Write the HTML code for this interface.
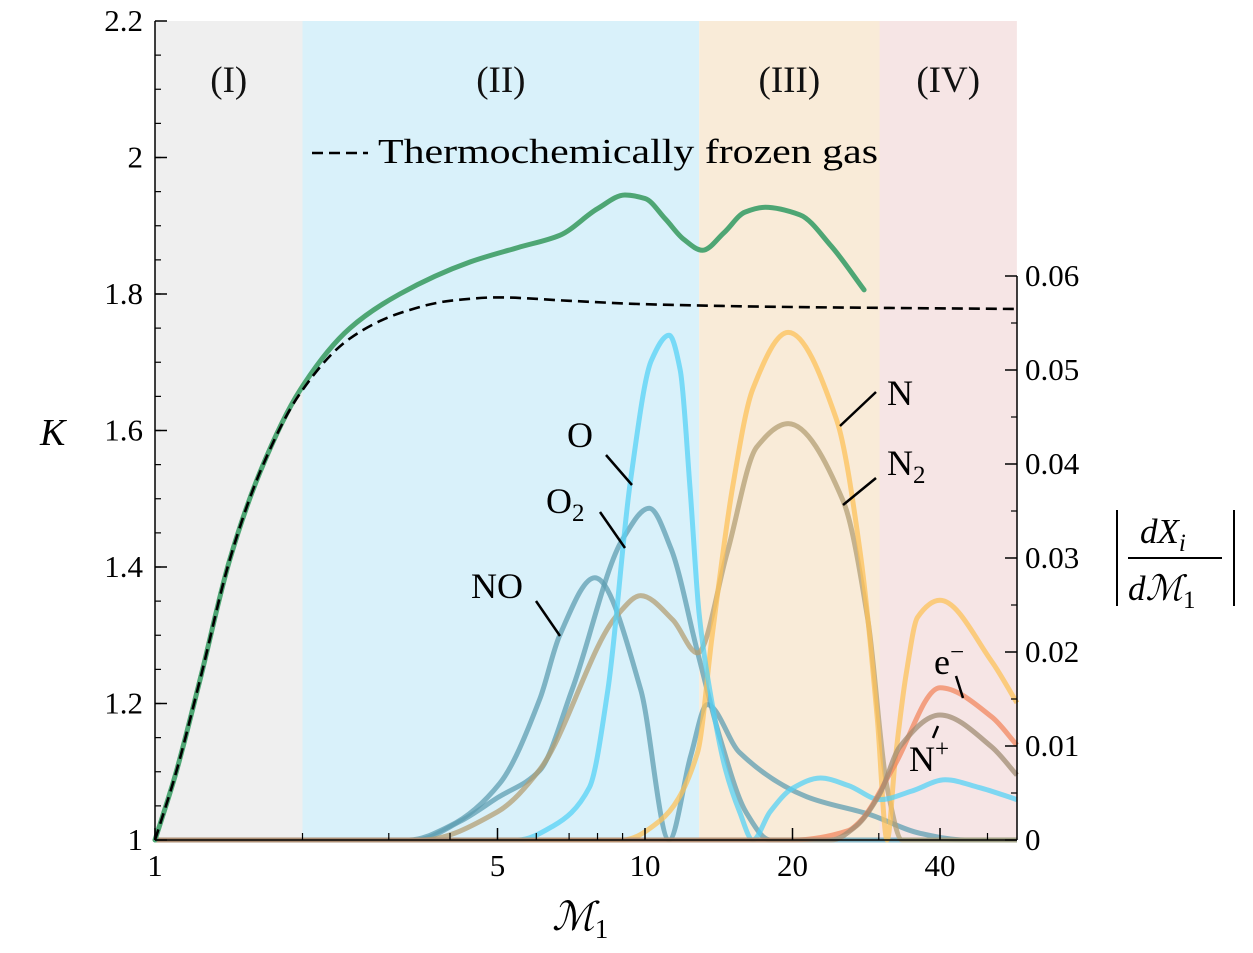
<!DOCTYPE html>
<html><head><meta charset="utf-8"><style>
html,body{margin:0;padding:0;background:#fff;}
svg{display:block;font-family:"Liberation Serif",serif;}
</style></head>
<body>
<svg id="chart" width="1253" height="953" viewBox="0 0 1253 953" xmlns="http://www.w3.org/2000/svg">
<g id="regions"></g>
<g id="curves"></g>
<g id="axes"></g>
<g id="labels"></g>
</svg>
<script>
const regionBounds=[1,2,12.9,30.1,57.4];
const regionNames=["(I)","(II)","(III)","(IV)"];
const regionColors=["#efefef","#d9f1fa","#f9ebd8","#f6e5e5"];
const kM=[1,1.1,1.235,1.42,1.64,1.98,2.5,3.16,4.4,5.5,6.7,8,9.1,10,11,12,13.1,14.5,16,17.6,20.7,24,28];
const kVal=[1,1.095,1.234,1.41,1.54,1.66,1.75,1.80,1.847,1.868,1.886,1.925,1.945,1.94,1.91,1.88,1.864,1.89,1.92,1.927,1.916,1.87,1.806];
const frozenM=[1,1.1,1.235,1.42,1.64,1.98,2.5,3.16,4,5,7,10,20,57.4];
const frozenVal=[1,1.095,1.234,1.41,1.54,1.655,1.735,1.772,1.79,1.795,1.79,1.785,1.781,1.778];
const oM=[1,5.5,6.5,7.7,8.4,9.33,10.3,11.2,11.8,12.35,12.9,13.7,14.6,15.6,16.6,18,20,22.8,26,30.2,35,41,48,57.4];
const oVal=[0,0,0.0015,0.0056,0.016,0.038,0.051,0.0537,0.05,0.0376,0.024,0.0146,0.0075,0.003,0,0.003,0.0055,0.0066,0.0058,0.0043,0.0052,0.0064,0.0056,0.0043];
const o2M=[1,3.4,4.2,5,6.1,7.1,9,10.2,11.3,12.8,14.2,16.1,18,57.4];
const o2Val=[0,0,0.002,0.0045,0.0074,0.016,0.032,0.0353,0.031,0.02,0.011,0.0029,0,0];
const noM=[1,3.3,4,5.05,6.1,6.7,7.9,9.8,11.2,12.4,13.4,15.6,21.4,28.8,36.5,45,57.4];
const noVal=[0,0,0.0015,0.006,0.015,0.0218,0.0279,0.016,0,0.009,0.0144,0.0093,0.0046,0.0027,0.0007,0,0];
const n2M=[1,3.5,5,6.1,8.8,9.8,11.4,12.8,14.7,16.9,19.6,25.4,28.5,31.2,33.5,57.4];
const n2Val=[0,0,0.003,0.0075,0.024,0.026,0.0234,0.0199,0.0305,0.0418,0.0443,0.036,0.0234,0.0056,0,0];
const nM=[1,9,10.7,12.8,13.7,15.1,16.6,19.6,24.6,27.5,29.8,31.2,32.4,34.2,36,40,51,57.4];
const nVal=[0,0,0.002,0.0093,0.0216,0.0376,0.048,0.054,0.0447,0.0305,0.0128,0,0.0085,0.018,0.0237,0.0255,0.019,0.0146];
const eM=[1,20,26,27.5,32.2,40,51,57.4];
const eVal=[0,0,0.001,0.002,0.0078,0.0162,0.0131,0.0101];
const npM=[1,24,27,30.2,33.1,40,51,57.4];
const npVal=[0,0,0.0015,0.005,0.0099,0.0133,0.0099,0.0069];
const xTicks=[1,5,10,20,40];
const yLeftTicks=[1,1.2,1.4,1.6,1.8,2,2.2];
const yLeftLabels=["1","1.2","1.4","1.6","1.8","2","2.2"];
const yRightTicks=[0,0.01,0.02,0.03,0.04,0.05,0.06];
const yRightLabels=["0","0.01","0.02","0.03","0.04","0.05","0.06"];

const L=155,R=1017,B=840,T=21;
const X=m=>L+490*Math.log10(m);
const YL=k=>B-682.5*(k-1);
const YR=v=>B-9400*v;
const NS="http://www.w3.org/2000/svg";
function mk(tag,attrs,parent){const e=document.createElementNS(NS,tag);for(const k in attrs)e.setAttribute(k,attrs[k]);parent.appendChild(e);return e;}
// monotone cubic (Fritsch-Carlson) in pixel space
function pathFrom(ms,vs,yf){
  const xs=ms.map(X), ys=vs.map(yf), n=xs.length;
  const d=[],m=new Array(n);
  for(let i=0;i<n-1;i++)d.push((ys[i+1]-ys[i])/(xs[i+1]-xs[i]));
  m[0]=d[0];m[n-1]=d[n-2];
  for(let i=1;i<n-1;i++){
    if(d[i-1]*d[i]<=0)m[i]=0;
    else{const h0=xs[i]-xs[i-1],h1=xs[i+1]-xs[i];const w1=2*h1+h0,w2=h1+2*h0;m[i]=(w1+w2)/(w1/d[i-1]+w2/d[i]);}
  }
  let s="M"+xs[0].toFixed(1)+","+ys[0].toFixed(1);
  for(let i=0;i<n-1;i++){
    const h=xs[i+1]-xs[i];
    s+=" C"+(xs[i]+h/3).toFixed(1)+","+(ys[i]+m[i]*h/3).toFixed(1)+" "+(xs[i+1]-h/3).toFixed(1)+","+(ys[i+1]-m[i+1]*h/3).toFixed(1)+" "+xs[i+1].toFixed(1)+","+ys[i+1].toFixed(1);
  }
  return s;
}
const gReg=document.getElementById('regions');
for(let i=0;i<4;i++){
  const x0=X(regionBounds[i]),x1=X(regionBounds[i+1]);
  const r=mk('rect',{x:x0,y:T,width:x1-x0,height:B-T,fill:regionColors[i]},gReg);
  
  
  const t=mk('text',{x:(x0+x1)/2,y:92,'font-size':37,'text-anchor':'middle',fill:'#111'},gReg);
  t.textContent=regionNames[i];
  
  
}
const gC=document.getElementById('curves');
const series=[
 [noM,noVal,"#5d9db1","no-curve"],
 [o2M,o2Val,"#5d9db1","o2-curve"],
 [n2M,n2Val,"#b39f74","n2-curve"],
 [nM,nVal,"#fcc25a","n-curve"],
 [oM,oVal,"#55d2f6","o-curve"],
 [eM,eVal,"#f2875f","e-curve"],
 [npM,npVal,"#a08c73","nplus-curve"]
];
series.forEach(s=>{
  const p=mk('path',{d:pathFrom(s[0],s[1],YR),fill:'none',stroke:s[2],'stroke-width':5,'stroke-opacity':0.75,'stroke-linejoin':'round'},gC);
  
  
});
const kp=mk('path',{d:pathFrom(kM,kVal,YL),fill:'none',stroke:'#4ea674','stroke-width':5,'stroke-linecap':'round'},gC);


const fp=mk('path',{d:pathFrom(frozenM,frozenVal,YL),fill:'none',stroke:'#000','stroke-width':2.6,'stroke-dasharray':'11,6'},gC);



const gA=document.getElementById('axes');
mk('line',{x1:L,y1:T,x2:L,y2:B,stroke:'#000','stroke-width':1.5},gA);
mk('line',{x1:L,y1:B,x2:R,y2:B,stroke:'#000','stroke-width':1.5},gA);
mk('line',{x1:R,y1:YR(0.06),x2:R,y2:B,stroke:'#000','stroke-width':1.5},gA);
yLeftTicks.forEach((v,i)=>{
  mk('line',{x1:L,y1:YL(v),x2:L+12,y2:YL(v),stroke:'#000','stroke-width':1.5},gA);
  const t=mk('text',{x:L-12,y:YL(v)+10,'font-size':31,'text-anchor':'end'},gA);
  t.textContent=yLeftLabels[i];
  
  
});
for(let v=1.05;v<2.2;v+=0.05){mk('line',{x1:L,y1:YL(v),x2:L+6,y2:YL(v),stroke:'#000','stroke-width':1.2},gA);}
yRightTicks.forEach((v,i)=>{
  mk('line',{x1:R,y1:YR(v),x2:R-12,y2:YR(v),stroke:'#000','stroke-width':1.5},gA);
  const t=mk('text',{x:R+8,y:YR(v)+10,'font-size':31,'text-anchor':'start'},gA);
  t.textContent=yRightLabels[i];
  
  
});
for(let v=0.005;v<0.06;v+=0.01){mk('line',{x1:R,y1:YR(v),x2:R-6,y2:YR(v),stroke:'#000','stroke-width':1.2},gA);}
xTicks.forEach(v=>{
  mk('line',{x1:X(v),y1:B,x2:X(v),y2:B-12,stroke:'#000','stroke-width':1.5},gA);
  const t=mk('text',{x:X(v),y:876,'font-size':31,'text-anchor':'middle'},gA);
  t.textContent=String(v);
  
  
});
[2,3,4,6,7,8,9,30,50].forEach(v=>{mk('line',{x1:X(v),y1:B,x2:X(v),y2:B-7,stroke:'#000','stroke-width':1.2},gA);});
</script>
<svg style="position:absolute;left:0;top:0" width="1253" height="953" font-family="Liberation Serif, serif">
<g stroke="#000" stroke-width="2.5">
<line x1="312" y1="153" x2="368" y2="153" stroke-dasharray="11,6" stroke-width="2.6"/>
<line x1="606" y1="455" x2="632" y2="485"/>
<line x1="600" y1="512" x2="625" y2="548"/>
<line x1="536" y1="601" x2="560" y2="636"/>
<line x1="876" y1="392" x2="840" y2="426"/>
<line x1="876" y1="478" x2="843" y2="505"/>
<line x1="956" y1="676" x2="963" y2="698"/>
<line x1="933" y1="738" x2="938" y2="726"/>
</g>
<text x="378" y="163" font-size="35" textLength="500" lengthAdjust="spacingAndGlyphs">Thermochemically frozen gas</text>
<text x="567" y="447" font-size="36">O</text>
<text x="546" y="513" font-size="36">O<tspan font-size="25" dy="8">2</tspan></text>
<text x="471" y="598" font-size="36">NO</text>
<text x="887" y="405" font-size="36">N</text>
<text x="887" y="475" font-size="36">N<tspan font-size="25" dy="8">2</tspan></text>
<text x="934" y="674" font-size="36">e<tspan font-size="25" dy="-14">−</tspan></text>
<text x="909" y="771" font-size="36">N<tspan font-size="25" dy="-14">+</tspan></text>
<text x="40" y="445" font-size="38" font-style="italic">K</text>
<text x="552" y="930" font-size="40" font-style="italic">ℳ<tspan font-size="27" font-style="normal" dy="8">1</tspan></text>
<g>
<line x1="1117" y1="510" x2="1117" y2="606" stroke="#000" stroke-width="2"/>
<line x1="1234" y1="510" x2="1234" y2="606" stroke="#000" stroke-width="2"/>
<line x1="1128" y1="558" x2="1222" y2="558" stroke="#000" stroke-width="2"/>
<text x="1140" y="543" font-size="35" font-style="italic">dX<tspan font-size="25" dy="8">i</tspan></text>
<text x="1128" y="600" font-size="35" font-style="italic">dℳ<tspan font-size="25" font-style="normal" dy="8">1</tspan></text>
</g>
</svg>
</body></html>
